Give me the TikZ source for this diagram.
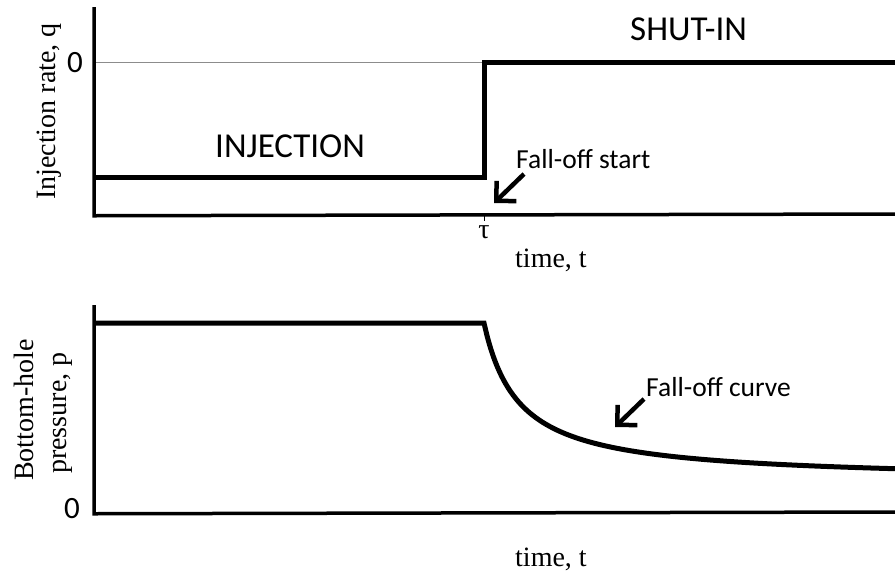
\documentclass[tikz,border=0pt]{standalone}
\usepackage{fontspec}
\setmainfont{Liberation Serif}
\newfontfamily\calib{Carlito}
\usetikzlibrary{arrows.meta}
\tikzset{
  axis/.style={line width=3.5pt},
  data/.style={line width=5pt, line join=miter},
  zeroline/.style={line width=1pt, draw=black!45},
  serlab/.style={font=\fontsize{28}{30}\selectfont, inner sep=0pt},
  sanslab/.style={font=\calib\fontsize{35}{38}\selectfont, inner sep=0pt},
  notelab/.style={font=\calib\fontsize{27.5}{30}\selectfont, inner sep=0pt},
  zerolab/.style={font=\calib\fontsize{31}{34}\selectfont, inner sep=0pt},
  pointer/.style={line width=4.5pt, -{Straight Barb[angle=90:20pt]}}
}
\begin{document}
\begin{tikzpicture}[x=1pt,y=-1pt]
\useasboundingbox[fill=white] (0,0) rectangle (895,574);
% ---------- top plot ----------
\coordinate (tO) at (94,214);
\coordinate (tTop) at (94,7);
\coordinate (tEnd) at (895,214);
\draw[zeroline] (94,62) -- (484,62);
\draw[axis] (tTop) -- (94,215.75) -- (tEnd);
\draw[line width=0.8pt] (484,214) -- (484,221);
\draw[data] (95,177) -- (484,177) -- (484,62) -- (895,62);
\node[zerolab, anchor=base west] (zt) at (67,72) {0};
\node[serlab, rotate=90, anchor=base west] (ylabt) at (55,200) {Injection rate, q};
\node[sanslab, anchor=base west] (inj) at (215,157) {INJECTION};
\node[sanslab, anchor=base west] (shut) at (630,40) {SHUT-IN};
\node[notelab, anchor=base west] (fos) at (516,168) {Fall-off start};
\node[serlab, anchor=base] (tau) at (484,238) {τ};
\node[serlab, anchor=base west] (tt) at (515,267) {time, t};
\coordinate (a1s) at (524,174);
\coordinate (a1e) at (494,203);
\draw[pointer] (a1s) -- (a1e);
% ---------- bottom plot ----------
\coordinate (bTop) at (94,305);
\coordinate (bEnd) at (895,512);
\draw[axis] (bTop) -- (94,513.75) -- (bEnd);
\draw[data] (95,323) -- (484,323)
  -- plot[domain=0:411, samples=120, smooth] ({484+\x},{323+158*(\x/(\x+34.7))});
\node[zerolab, anchor=base west] (zb) at (64,518) {0};
\node[serlab, rotate=90, anchor=base west] (ylb1) at (33,481) {Bottom-hole};
\node[serlab, rotate=90, anchor=base west] (ylb2) at (66,474) {pressure, p};
\node[notelab, anchor=base west] (foc) at (646,396) {Fall-off curve};
\node[serlab, anchor=base west] (tb) at (515,566) {time, t};
\coordinate (a2s) at (644,399);
\coordinate (a2e) at (615,427);
\draw[pointer] (a2s) -- (a2e);
\end{tikzpicture}
\end{document}
